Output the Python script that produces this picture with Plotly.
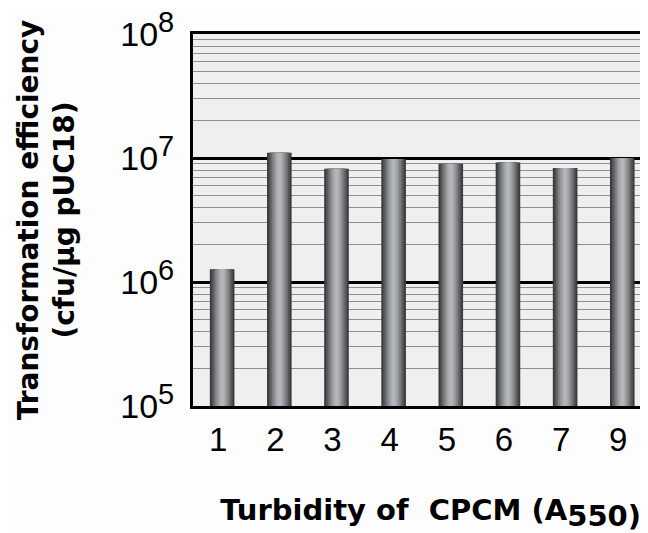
import plotly.graph_objects as go

# turbidity (A550) categories and transformation efficiency (cfu/ug pUC18)
turbidity = ["1", "2", "3", "4", "5", "6", "7", "9"]
efficiency = [1.27e6, 1.1e7, 8.2e6, 9.8e6, 9.0e6, 9.2e6, 8.3e6, 1.0e7]

y_tick_vals = [1e5, 1e6, 1e7, 1e8]
y_tick_text = ["10<sup><span style='font-size:29px'>%d</span></sup>" % p for p in (5, 6, 7, 8)]

# overlaid bars of shrinking width fake the cylinder shading
SHADE_LAYERS = [
    (0.43, "#3a3a3a"),
    (0.37, "#525254"),
    (0.31, "#69696c"),
    (0.25, "#7f8084"),
    (0.19, "#939599"),
    (0.13, "#a4a7ab"),
    (0.07, "#b2b5ba"),
]

FONT = "Liberation Sans, Arial, sans-serif"
TITLE_FONT = "DejaVu Sans, Arial, sans-serif"

fig = go.Figure()
for width, color in SHADE_LAYERS:
    fig.add_trace(
        go.Bar(
            x=turbidity,
            y=efficiency,
            width=width,
            marker=dict(color=color, line=dict(width=0)),
            showlegend=False,
            hoverinfo="skip",
        )
    )

# the page body adds an 8px margin, so margins are trimmed by 8 to line up
fig.update_layout(
    width=648,
    height=533,
    barmode="overlay",
    paper_bgcolor="#fdfdfd",
    plot_bgcolor="#efefef",
    margin=dict(l=185, r=8, t=26, b=135),
    font=dict(family=FONT, color="black"),
    xaxis=dict(
        type="category",
        automargin=False,
        range=[-0.51, 7.45],
        showgrid=False,
        showline=True,
        mirror=True,
        linecolor="black",
        linewidth=3,
        ticks="",
        tickfont=dict(size=33, family=FONT),
        ticklabelstandoff=2,
        ticklabelshift=-4,
        title=dict(
            # leading spaces nudge the centred title a little to the right
            text="&nbsp;&nbsp;Turbidity of&nbsp; CPCM (A<sub><span style='font-size:29px'>550)</span></sub>",
            font=dict(size=29, family=TITLE_FONT, weight="bold"),
            standoff=44,
        ),
    ),
    yaxis=dict(
        type="log",
        automargin=False,
        range=[5, 8],
        tickvals=y_tick_vals,
        ticktext=y_tick_text,
        ticklabeloverflow="allow",
        showgrid=True,
        gridcolor="black",
        gridwidth=3,
        minor=dict(dtick="D1", showgrid=True, gridcolor="#8e8e8e", gridwidth=1),
        showline=True,
        linecolor="black",
        linewidth=3,
        ticks="",
        zeroline=False,
        tickfont=dict(size=34, family=FONT),
        ticklabelstandoff=9,
        title=dict(
            text="Transformation efficiency<br>(cfu/\u00b5g pUC18)",
            font=dict(size=28, family=TITLE_FONT, weight="bold"),
            standoff=38,
        ),
    ),
)

fig.write_html("out.html")
